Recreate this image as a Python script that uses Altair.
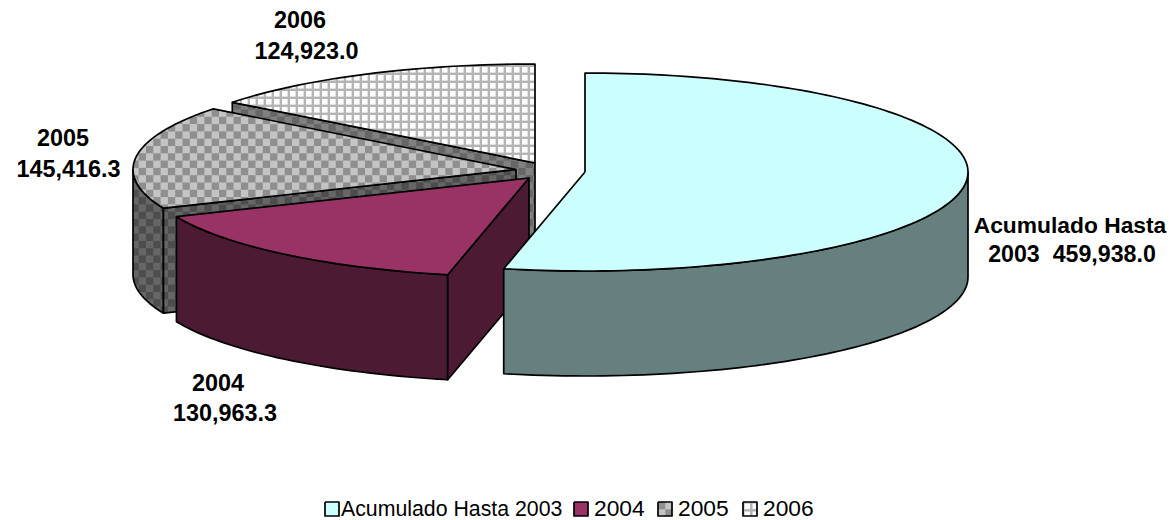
import math
import altair as alt
import pandas as pd

categories = ["Acumulado Hasta 2003", "2004", "2005", "2006"]
values = [459938.0, 130963.3, 145416.3, 124923.0]
apex_x = [585, 529, 516, 535]
apex_y = [172, 178, 169.5, 163]
top_fill = ["#ccffff", "#993366", "#c4c4c4", "#ffffff"]
side_fill = ["#668080", "#4d1a33", "#4d4d4d", "#808080"]

label_text = ["2006", "124,923.0", "2005", "145,416.3", "2004", "130,963.3",
              "Acumulado Hasta", "2003\u00a0 459,938.0"]
label_x = [300, 306.5, 63, 68.5, 218, 225, 1070, 1072]
label_y = [28, 59, 146, 177, 391, 421, 233, 262]
label_font = [23.4, 23.4, 23.4, 23.4, 23.4, 23.4, 22.8, 23.2]

legend_text_x = [341, 594, 678, 763]
legend_swatch_x = [325, 574, 658, 743]
legend_font = [21.3, 22.8, 22.8, 22.8]

A, B, DEPTH = 383.0, 99.0, 105.0
FONT = "Liberation Sans"

total = sum(values)
edges = [0.0]
for v in values:
    edges.append(edges[-1] + v / total * 360.0)


def rim(k, t):
    r = math.radians(t)
    return (apex_x[k] + A * math.sin(r), apex_y[k] - B * math.cos(r))


def arc(k, t0, t1, step=1.5):
    n = max(2, int(abs(t1 - t0) / step) + 1)
    return [rim(k, t0 + (t1 - t0) * i / (n - 1)) for i in range(n)]


def down(pts):
    return [(x, y + DEPTH) for x, y in pts]


def top_poly(k):
    return [(apex_x[k], apex_y[k])] + arc(k, edges[k], edges[k + 1])


def wall_poly(k, t0, t1):
    a = arc(k, t0, t1)
    return a + down(a)[::-1]


def cut_poly(k, t):
    p = rim(k, t)
    c = (apex_x[k], apex_y[k])
    return [p, c, (c[0], c[1] + DEPTH), (p[0], p[1] + DEPTH)]


def clip(poly, x0, x1, y0, y1):
    def run(pts, inside, cross):
        out = []
        for i, cur in enumerate(pts):
            prev = pts[i - 1]
            if inside(cur):
                if not inside(prev):
                    out.append(cross(prev, cur))
                out.append(cur)
            elif inside(prev):
                out.append(cross(prev, cur))
        return out

    def cx(v):
        return lambda a, b: (v, a[1] + (b[1] - a[1]) * (v - a[0]) / (b[0] - a[0]))

    def cy(v):
        return lambda a, b: (a[0] + (b[0] - a[0]) * (v - a[1]) / (b[1] - a[1]), v)

    for ins, cr in [(lambda p: p[0] >= x0, cx(x0)), (lambda p: p[0] <= x1, cx(x1)),
                    (lambda p: p[1] >= y0, cy(y0)), (lambda p: p[1] <= y1, cy(y1))]:
        if not poly:
            return []
        poly = run(poly, ins, cr)
    return poly


X = alt.Scale(domain=[8, 1168], range=[0, 1160])
Y = alt.Scale(domain=[520, 8], range=[512, 0])


def draw(rows, fill=None, stroke=None, sw=0.0):
    df = pd.DataFrame(rows, columns=["x", "y", "i", "g"])
    kw = {"strokeWidth": sw, "strokeJoin": "round", "clip": False}
    kw["stroke"] = stroke if stroke else "transparent"
    if fill:
        kw["fill"] = fill
    return alt.Chart(df).mark_line(**kw).encode(
        x=alt.X("x:Q", scale=X, axis=None),
        y=alt.Y("y:Q", scale=Y, axis=None),
        order="i:Q",
        detail="g:N",
    )


def rows_of(poly, g=0):
    pts = list(poly) + [poly[0]]
    return [(x, y, i, g) for i, (x, y) in enumerate(pts)]


def face(poly, fill):
    return draw(rows_of(poly), fill=fill, stroke="#000000", sw=1.7)


def checker(poly, light, dark, size=7.3, ox=0.0, oy=0.0):
    xs = [p[0] for p in poly]
    ys = [p[1] for p in poly]
    rows, g = [], 0
    i0, i1 = int((min(xs) - ox) // size), int((max(xs) - ox) // size) + 1
    j0, j1 = int((min(ys) - oy) // size), int((max(ys) - oy) // size) + 1
    for i in range(i0, i1):
        for j in range(j0, j1):
            if (i + j) % 2:
                continue
            c = clip(poly, ox + i * size, ox + (i + 1) * size, oy + j * size, oy + (j + 1) * size)
            if len(c) >= 3:
                rows += rows_of(c, g)
                g += 1
    return [draw(rows_of(poly), fill=light), draw(rows, fill=dark),
            draw(rows_of(poly), stroke="#000000", sw=1.7)]


def grid(poly, line, cell, period=8.0, gap=5.6, ox=0.0, oy=0.0):
    xs = [p[0] for p in poly]
    ys = [p[1] for p in poly]
    rows, g = [], 0
    for i in range(int((min(xs) - ox) // period), int((max(xs) - ox) // period) + 1):
        for j in range(int((min(ys) - oy) // period), int((max(ys) - oy) // period) + 1):
            x0, y0 = ox + i * period, oy + j * period
            c = clip(poly, x0, x0 + gap, y0, y0 + gap)
            if len(c) >= 3:
                rows += rows_of(c, g)
                g += 1
    return [draw(rows_of(poly), fill=line), draw(rows, fill=cell),
            draw(rows_of(poly), stroke="#000000", sw=1.7)]


layers = []

# 2006: cut face, then patterned top
layers += checker(cut_poly(3, edges[3]), "#808080", "#666666")
layers += grid(top_poly(3), "#b4b4b4", "#ffffff", ox=2.0, oy=3.0)

# 2005: outer wall, cut face, top
layers += checker(wall_poly(2, edges[2], 270), "#666666", "#4d4d4d")
layers += checker(cut_poly(2, edges[2]), "#666666", "#4d4d4d")
layers += checker(top_poly(2), "#c4c4c4", "#8f8f8f")

# 2004: outer wall, cut face, top
layers.append(face(wall_poly(1, edges[1], edges[2]), side_fill[1]))
layers.append(face(cut_poly(1, edges[1]), side_fill[1]))
layers.append(face(top_poly(1), top_fill[1]))

# Acumulado: outer wall, top
layers.append(face(wall_poly(0, 90, edges[1]), side_fill[0]))
layers.append(face(top_poly(0), top_fill[0]))

# Slice labels
labels = pd.DataFrame({"t": label_text, "x": label_x, "y": label_y, "s": label_font})
layers.append(alt.Chart(labels).mark_text(
    font=FONT, fontWeight="bold", color="#000000", align="center", baseline="alphabetic"
).encode(
    x=alt.X("x:Q", scale=X, axis=None),
    y=alt.Y("y:Q", scale=Y, axis=None),
    text="t:N",
    size=alt.Size("s:Q", scale=None, legend=None),
))


def square(x0):
    return [(x0, 502), (x0 + 14, 502), (x0 + 14, 516), (x0, 516)]


# Legend keys and texts
layers.append(face(square(legend_swatch_x[0]), top_fill[0]))
layers.append(face(square(legend_swatch_x[1]), top_fill[1]))
layers += checker(square(legend_swatch_x[2]), "#c4c4c4", "#8f8f8f", ox=legend_swatch_x[2], oy=502)
layers += grid(square(legend_swatch_x[3]), "#b4b4b4", "#ffffff", ox=legend_swatch_x[3] + 1.5, oy=503.5)

legend = pd.DataFrame({"t": categories, "x": legend_text_x, "y": [515.5] * 4, "s": legend_font})
layers.append(alt.Chart(legend).mark_text(
    font=FONT, color="#000000", align="left", baseline="alphabetic"
).encode(
    x=alt.X("x:Q", scale=X, axis=None),
    y=alt.Y("y:Q", scale=Y, axis=None),
    text="t:N",
    size=alt.Size("s:Q", scale=None, legend=None),
))

chart = alt.layer(*layers).properties(
    width=1160, height=512, padding=0, autosize=alt.AutoSizeParams(type="none"), background="#ffffff"
).configure_view(stroke=None)

chart.save("out.html", embed_options={"renderer": "svg", "actions": False})
